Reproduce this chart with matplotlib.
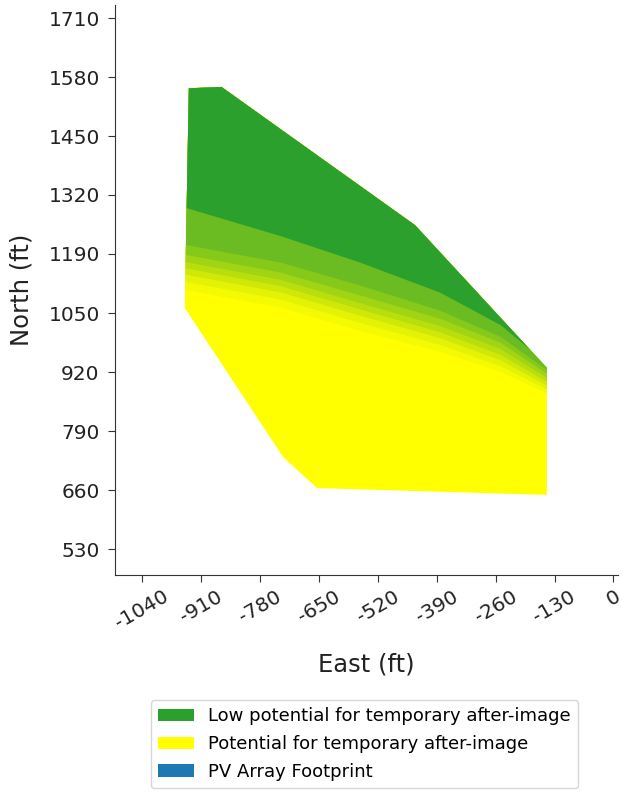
import matplotlib
matplotlib.use("Agg")
import matplotlib.pyplot as plt
from matplotlib.patches import Polygon, Patch

# ---- data ----
outline_east = [-937, -865, -438, -147, -147, -654, -729, -946]
outline_north = [1554, 1557, 1250, 933, 651, 666, 735, 1066]

band_east = [-960, -736, -560, -383, -250, -110]
band_bounds = [
    [1294, 1227, 1168, 1101, 1029, 912],   # dark green lower edge
    [1210, 1168, 1117, 1061, 1003, 902],
    [1188, 1146, 1095, 1043, 990, 895],
    [1172, 1130, 1078, 1027, 976, 888],
    [1158, 1116, 1064, 1013, 963, 881],
    [1144, 1102, 1050, 1000, 951, 874],
    [1128, 1086, 1034, 985, 938, 867],
    [1110, 1068, 1016, 970, 925, 860],
]
band_colors = ['#2ca02c', '#6bbc22', '#87c91b', '#a0d414', '#b8de0e',
               '#cfe809', '#e4f205', '#f4fa02']
base_color = '#ffff00'

x_ticks = [-1040, -910, -780, -650, -520, -390, -260, -130, 0]
x_tick_labels = ['-1040', '-910', '-780', '-650', '-520', '-390', '-260', '-130', '0']
y_ticks = [530, 661, 792, 923, 1054, 1186, 1317, 1448, 1579, 1710]
y_tick_labels = ['530', '660', '790', '920', '1050', '1190', '1320', '1450', '1580', '1710']

legend_labels = ['Low potential for temporary after-image',
                 'Potential for temporary after-image',
                 'PV Array Footprint']
legend_colors = ['#2ca02c', '#ffff00', '#1f77b4']

# ---- figure ----
fig = plt.figure(figsize=(6.34, 7.93), dpi=100)
ax = fig.add_axes([115/634, 218/793, 503/634, 570/793])

outline = Polygon(list(zip(outline_east, outline_north)), closed=True,
                  facecolor=base_color, edgecolor='none')
ax.add_patch(outline)

for bounds, col in reversed(list(zip(band_bounds, band_colors))):
    coll = ax.fill_between(band_east, bounds, 1900, color=col, linewidth=0)
    coll.set_clip_path(outline)

ax.set_xlim(-1100, 10)
ax.set_ylim(473, 1739)
ax.set_xticks(x_ticks)
ax.set_xticklabels(x_tick_labels, rotation=30)
ax.set_yticks(y_ticks)
ax.set_yticklabels(y_tick_labels)
ax.tick_params(labelsize=14.5, length=5, color='#333333', labelcolor='#222222')
ax.tick_params(axis='y', pad=6)
for s in ['top', 'right']:
    ax.spines[s].set_visible(False)
for s in ['left', 'bottom']:
    ax.spines[s].set_color('#333333')

ax.set_xlabel('East (ft)', fontsize=17.5, color='#222222', labelpad=14)
ax.set_ylabel('North (ft)', fontsize=17.5, color='#222222', labelpad=11)

handles = [Patch(facecolor=c, edgecolor='none') for c in legend_colors]
fig.legend(handles, legend_labels, loc='upper center',
           bbox_to_anchor=(364.5/634, 1 - 700/793), fontsize=13,
           borderaxespad=0, frameon=True, labelspacing=0.55)

fig.savefig('out.png', dpi=100)
